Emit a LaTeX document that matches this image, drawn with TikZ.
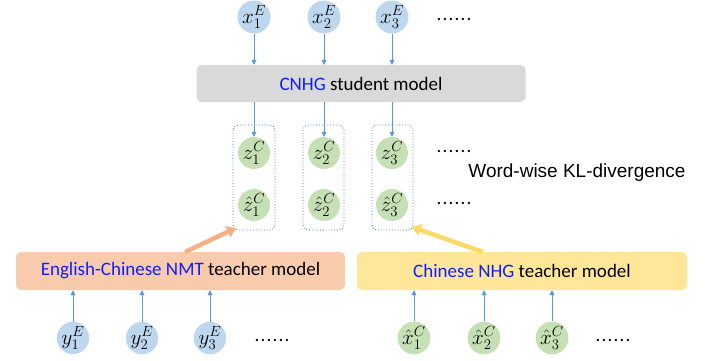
\documentclass[tikz,border=0pt]{standalone}
\usepackage{fix-cm}
\usepackage{fontspec}
\setmainfont{Carlito}
\newfontfamily\arialfont{Liberation Sans}
\usetikzlibrary{arrows.meta}
\definecolor{cblue}{HTML}{BDD7EE}
\definecolor{cgreen}{HTML}{C5E0B4}
\definecolor{cgray}{HTML}{D9D9D9}
\definecolor{corange}{HTML}{F8CBAD}
\definecolor{cyellow}{HTML}{FFE699}
\definecolor{carrow}{HTML}{5B9BD5}
\definecolor{cdot}{HTML}{2E75B6}
\definecolor{corarrow}{HTML}{F4B183}
\definecolor{cyarrow}{HTML}{FFD966}
\definecolor{ctext}{HTML}{0D1FFF}
\newcommand\mydots{.\kern1.2pt.\kern1.2pt.\kern1.2pt.\kern1.2pt.\kern1.2pt.}
\tikzset{
  bc/.style={circle,fill=cblue,minimum size=30pt,inner sep=0pt,font=\fontsize{21}{23}\selectfont},
  gc/.style={circle,fill=cgreen,minimum size=30pt,inner sep=0pt,font=\fontsize{21}{23}\selectfont},
  modelbox/.style={rounded corners=5pt,inner sep=0pt,font=\fontsize{19}{21}\selectfont},
  dotbox/.style={draw=cdot,dotted,rounded corners=5pt,line width=0.8pt},
  arr/.style={draw=carrow,-{Triangle[width=5pt,length=5pt]}},
  fatarr/.style={line width=4.5pt,-{Triangle[width=12pt,length=9pt]}},
  dots/.style={font=\fontsize{19}{21}\selectfont,anchor=base,inner sep=0pt}
}
\begin{document}
\begin{tikzpicture}[x=1pt,y=-1pt]
\useasboundingbox (0,0) rectangle (717,360);
% top inputs
\node[bc] (x1) at (254,17) {$x_1^E$};
\node[bc] (x2) at (324,17) {$x_2^E$};
\node[bc] (x3) at (392,17) {$x_3^E$};
\node[dots] (xd) at (454,20) {\mydots};
% student
\node[modelbox,fill=cgray,minimum width=329pt,minimum height=37pt] (stu) at (361,83.5) {\textcolor{ctext}{CNHG} student model};
% z nodes
\node[gc] (z1) at (254,153) {$z_1^C$};
\node[gc] (z2) at (324,153) {$z_2^C$};
\node[gc] (z3) at (392,153) {$z_3^C$};
\node[gc] (h1) at (254,205) {$\hat{z}_1^C$};
\node[gc] (h2) at (324,205) {$\hat{z}_2^C$};
\node[gc] (h3) at (392,205) {$\hat{z}_3^C$};
\node[dots] (zd) at (454,152) {\mydots};
\node[dots] (hd) at (454,204) {\mydots};
\node[font=\arialfont\fontsize{19}{21}\selectfont] (kl) at (577,173) {Word-wise KL-divergence};
% dotted groups
\draw[dotbox] (233,125) rectangle (275,230);
\draw[dotbox] (303,125) rectangle (344,230);
\draw[dotbox] (372,125) rectangle (413,230);
\coordinate (g1) at (236,228);
\coordinate (g3) at (412,227);
% teachers
\node[modelbox,fill=corange,minimum width=329pt,minimum height=38pt] (nmt) at (180.5,271) {\textcolor{ctext}{English-Chinese NMT} teacher model};
\node[modelbox,fill=cyellow,minimum width=330pt,minimum height=38pt] (nhg) at (522,271) {\textcolor{ctext}{Chinese NHG} teacher model};
% bottom inputs
\node[bc] (y1) at (73,338) {$y_1^E$};
\node[bc] (y2) at (142,338) {$y_2^E$};
\node[bc] (y3) at (210,338) {$y_3^E$};
\node[dots] (yd) at (272,341) {\mydots};
\node[gc] (c1) at (414,338) {$\hat{x}_1^C$};
\node[gc] (c2) at (484,338) {$\hat{x}_2^C$};
\node[gc] (c3) at (552,338) {$\hat{x}_3^C$};
\node[dots] (cd) at (613,341) {\mydots};
% arrows
\foreach \a in {1,2,3} {
  \draw[arr] (x\a) -- (x\a |- stu.north);
  \draw[arr] (z\a |- stu.south) -- (z\a);
  \draw[arr] (y\a) -- (y\a |- nmt.south);
  \draw[arr] (c\a) -- (c\a |- nhg.south);
}
\draw[fatarr,draw=corarrow,fill=corarrow] (185,252) -- (g1);
\draw[fatarr,draw=cyarrow,fill=cyarrow] (483,252) -- (g3);
\end{tikzpicture}
\end{document}
